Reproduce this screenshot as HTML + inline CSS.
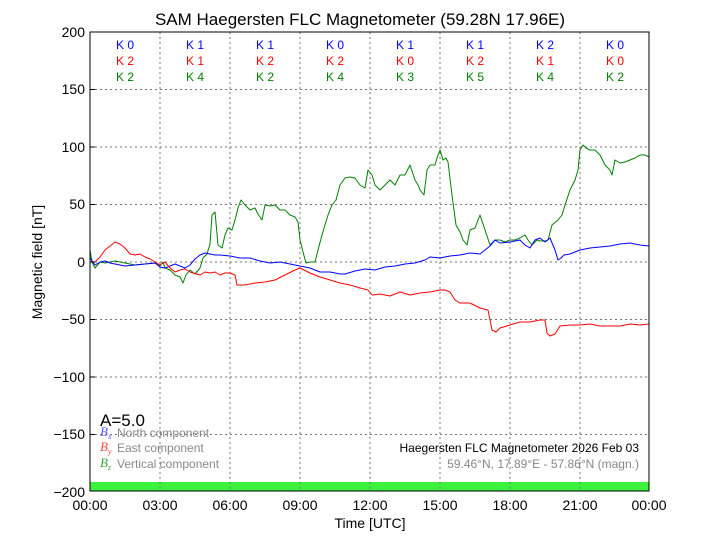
<!DOCTYPE html>
<html><head><meta charset="utf-8"><style>body{margin:0;background:#fff}svg{display:block}</style></head>
<body>
<svg width="720" height="540" xmlns="http://www.w3.org/2000/svg" font-family="Liberation Sans, sans-serif">
<rect width="720" height="540" fill="#fff"/>
<rect x="90" y="482" width="559" height="9" fill="#3cf23c"/>
<g stroke="#777" stroke-dasharray="2,3" stroke-width="1">
<line x1="160" y1="32" x2="160" y2="491"/><line x1="230" y1="32" x2="230" y2="491"/><line x1="300" y1="32" x2="300" y2="491"/><line x1="370" y1="32" x2="370" y2="491"/><line x1="440" y1="32" x2="440" y2="491"/><line x1="510" y1="32" x2="510" y2="491"/><line x1="580" y1="32" x2="580" y2="491"/>
<line x1="90" y1="89.5" x2="649" y2="89.5"/><line x1="90" y1="147" x2="649" y2="147"/><line x1="90" y1="204.5" x2="649" y2="204.5"/><line x1="90" y1="262" x2="649" y2="262"/><line x1="90" y1="319.5" x2="649" y2="319.5"/><line x1="90" y1="377" x2="649" y2="377"/><line x1="90" y1="434.5" x2="649" y2="434.5"/>
</g>
<g fill="none" stroke-width="1" stroke-linejoin="round">
<polyline stroke="#008000" points="90,250 92,262 95,268 100,262 105,263 115,261 125,263 135,265 145,264 155,263 160,266 163,262 165,268 170,270 175,275 180,277 183,283 186,275 190,270 195,274 200,268 203,258 207,254 210,244 212,215 215,212 218,245 222,248 225,235 228,228 232,230 235,220 238,208 241,200 245,205 250,210 255,208 258,214 262,220 265,205 270,206 275,205 280,210 285,210 290,215 295,217 298,222 300,240 303,252 306,263 310,262 315,262 318,250 322,235 325,225 328,215 332,205 336,200 340,185 345,178 350,177 355,178 360,185 365,188 368,170 372,175 375,185 380,190 385,185 390,180 395,185 400,175 405,175 410,165 415,180 418,185 420,190 424,195 427,170 430,165 435,165 438,155 440,150 443,160 446,158 448,162 452,195 456,225 460,232 463,240 467,245 470,230 475,228 480,215 485,230 490,245 495,240 500,240 505,242 510,240 515,240 520,238 525,235 528,240 532,245 537,240 540,241 545,241 548,240 552,225 558,220 562,215 565,205 570,190 575,180 578,170 580,150 583,145 586,148 590,150 595,150 600,155 605,165 610,170 612,175 615,160 620,163 625,162 630,160 635,158 640,155 645,155 649,157"/>
<polyline stroke="#0000ff" points="90,258 95,265 100,262 105,261 110,263 115,264 125,266 135,265 145,264 155,263 160,267 165,268 170,266 175,264 180,266 185,268 190,265 195,259 200,255 205,253 210,254 215,255 220,255 230,256 240,258 250,258 260,261 270,263 280,262 290,264 300,266 310,268 320,272 330,272 340,274 345,274 355,271 365,269 375,270 385,267 395,266 405,264 415,263 425,260 430,257 440,258 450,256 460,255 470,253 480,254 490,246 495,240 500,243 510,242 520,240 525,245 530,248 535,240 540,238 545,242 550,238 555,250 558,260 561,258 564,255 570,254 580,250 590,248 600,247 610,246 620,244 630,243 640,245 649,246"/>
<polyline stroke="#ff0000" points="90,262 95,262 100,257 105,250 110,246 115,242 120,244 125,248 130,254 135,255 140,254 145,257 150,259 155,262 160,265 165,262 170,268 175,272 180,270 185,269 190,272 200,275 205,272 210,273 215,272 220,275 225,273 230,273 235,275 237,285 245,285 255,283 265,282 275,280 285,275 295,270 300,268 310,273 320,277 330,280 340,283 350,285 360,288 368,290 372,295 380,294 390,296 400,292 410,295 420,293 430,292 440,290 445,290 450,292 455,300 460,303 470,303 480,308 488,310 492,330 496,332 500,328 510,325 520,322 530,322 540,320 545,320 547,333 550,336 555,334 560,326 570,325 580,325 590,324 600,326 610,326 620,326 630,324 640,325 649,324"/>
</g>
<rect x="90" y="32" width="559" height="459" fill="none" stroke="#000" stroke-width="1"/>
<g stroke="#000"><line x1="90" y1="89.5" x2="95" y2="89.5"/><line x1="90" y1="147" x2="95" y2="147"/><line x1="90" y1="204.5" x2="95" y2="204.5"/><line x1="90" y1="262" x2="95" y2="262"/><line x1="90" y1="319.5" x2="95" y2="319.5"/><line x1="90" y1="377" x2="95" y2="377"/><line x1="90" y1="434.5" x2="95" y2="434.5"/></g>
<text x="360" y="25" font-size="17" text-anchor="middle">SAM Haegersten FLC Magnetometer (59.28N 17.96E)</text>
<g font-size="14" text-anchor="end">
<text x="85" y="37">200</text><text x="85" y="94">150</text><text x="85" y="152">100</text><text x="85" y="209">50</text><text x="85" y="267">0</text><text x="85" y="324">−50</text><text x="85" y="382">−100</text><text x="85" y="439">−150</text><text x="85" y="497">−200</text>
</g>
<g font-size="14" text-anchor="middle">
<text x="90" y="510">00:00</text><text x="160" y="510">03:00</text><text x="230" y="510">06:00</text><text x="300" y="510">09:00</text><text x="370" y="510">12:00</text><text x="440" y="510">15:00</text><text x="510" y="510">18:00</text><text x="580" y="510">21:00</text><text x="649" y="510">00:00</text>
<text x="370" y="528">Time [UTC]</text>
</g>
<text transform="translate(42,262) rotate(-90)" font-size="14" text-anchor="middle">Magnetic field [nT]</text>
<g font-size="12" text-anchor="middle">
<g fill="#0000ff"><text x="125" y="49">K 0</text><text x="195" y="49">K 1</text><text x="265" y="49">K 1</text><text x="335" y="49">K 0</text><text x="405" y="49">K 1</text><text x="475" y="49">K 1</text><text x="545" y="49">K 2</text><text x="615" y="49">K 0</text></g>
<g fill="#ff0000"><text x="125" y="65">K 2</text><text x="195" y="65">K 1</text><text x="265" y="65">K 2</text><text x="335" y="65">K 2</text><text x="405" y="65">K 0</text><text x="475" y="65">K 2</text><text x="545" y="65">K 1</text><text x="615" y="65">K 0</text></g>
<g fill="#008000"><text x="125" y="81">K 2</text><text x="195" y="81">K 4</text><text x="265" y="81">K 2</text><text x="335" y="81">K 4</text><text x="405" y="81">K 3</text><text x="475" y="81">K 5</text><text x="545" y="81">K 4</text><text x="615" y="81">K 2</text></g>
</g>
<text x="100" y="426" font-size="17">A=5.0</text>
<g font-size="12" fill="#888">
<text x="117" y="437">North component</text><text x="117" y="452">East component</text><text x="117" y="468">Vertical component</text>
</g>
<g font-family="Liberation Serif, serif" font-style="italic" font-size="13">
<text x="100" y="436" fill="#5555ff">B<tspan font-size="8" dy="3">x</tspan></text>
<text x="100" y="451" fill="#ff4444">B<tspan font-size="8" dy="3">y</tspan></text>
<text x="100" y="467" fill="#33aa33">B<tspan font-size="8" dy="3">z</tspan></text>
</g>
<text x="639" y="452" font-size="12" text-anchor="end">Haegersten FLC Magnetometer 2026 Feb 03</text>
<text x="639" y="468" font-size="12" text-anchor="end" fill="#888">59.46°N, 17.89°E - 57.86°N (magn.)</text>
</svg>
</body></html>
